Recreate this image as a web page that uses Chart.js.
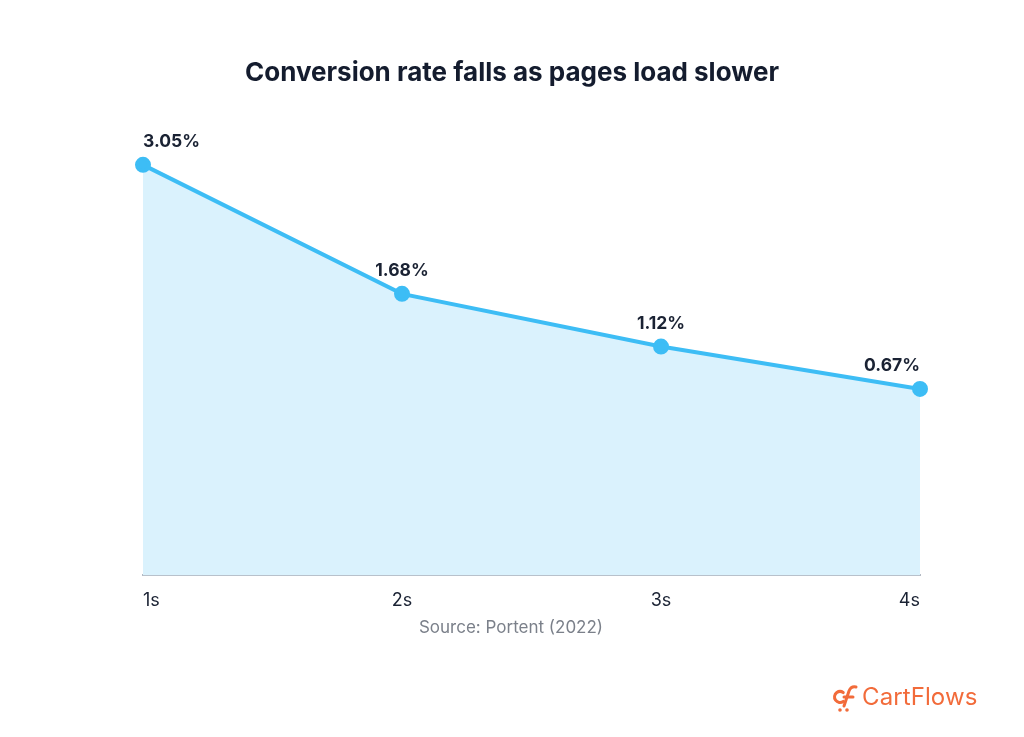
<!DOCTYPE html>
<html>
<head>
<meta charset="utf-8">
<script src="https://cdn.jsdelivr.net/npm/chart.js@4"></script>
<style>
  html, body { margin: 0; padding: 0; background: #fff; }
  #wrap { position: relative; width: 1024px; height: 737px; }
  #brand {
    position: absolute; left: 862px; top: 682px;
    font-family: Inter, "Noto Sans", sans-serif; font-size: 24px;
    color: #f26b3a; letter-spacing: 0.1px;
  }
</style>
</head>
<body>
<div id="wrap">
  <canvas id="chart" width="1024" height="737"></canvas>
  <div id="brand">CartFlows</div>
</div>
<script>
// chart values
const loadTimes = ['1s', '2s', '3s', '4s'];
const conversionRates = [3.05, 1.68, 1.12, 0.67];
const titleText = 'Conversion rate falls as pages load slower';
const sourceText = 'Source: Portent (2022)';

const LINE_COLOR = '#3dbdf5';
const FILL_COLOR = '#daf2fd';
const TEXT_DARK = '#1a2233';

//Draws the title, value labels, source line and the small logo icon
const decorations = {
    id: 'decorations',
    afterDatasetsDraw(chart) {
        const ctx = chart.ctx;
        ctx.save();
        ctx.fillStyle = '#141c2e';
        ctx.font = 'bold 26px Inter, "Noto Sans", sans-serif';
        ctx.textAlign = 'center';
        ctx.textBaseline = 'middle';
        ctx.fillText(titleText, 512, 73);

        // value labels above each point
        const meta = chart.getDatasetMeta(0);
        ctx.font = 'bold 17.5px Inter, "Noto Sans", sans-serif';
        ctx.fillStyle = TEXT_DARK;
        meta.data.forEach((pt, i) => {
            const last = meta.data.length - 1;
            ctx.textAlign = i === 0 ? 'left' : (i === last ? 'right' : 'center');
            ctx.fillText(conversionRates[i].toFixed(2) + '%', pt.x, pt.y - 23);
        });

        ctx.font = '17px Inter, "Noto Sans", sans-serif';
        ctx.fillStyle = '#7b808a';
        ctx.textAlign = 'center';
        ctx.fillText(sourceText, 511, 628);

        // logo icon next to the brand text
        ctx.strokeStyle = '#f26b3a';
        ctx.fillStyle = '#f26b3a';
        ctx.lineWidth = 3;
        ctx.lineCap = 'round';
        ctx.beginPath();
        ctx.arc(840, 697, 5.5, Math.PI * 0.3, Math.PI * 1.7);
        ctx.stroke();
        ctx.beginPath();
        ctx.moveTo(844, 706);
        ctx.lineTo(849, 691);
        ctx.quadraticCurveTo(851, 686, 856, 687);
        ctx.stroke();
        ctx.beginPath();
        ctx.moveTo(844, 697);
        ctx.lineTo(853, 697);
        ctx.stroke();
        ctx.beginPath();
        ctx.arc(840, 710, 1.8, 0, Math.PI * 2);
        ctx.arc(847, 710, 1.8, 0, Math.PI * 2);
        ctx.fill();
        ctx.restore();
    }
};

new Chart(document.getElementById('chart'), {
    type: 'line',
    data: {
        labels: loadTimes,
        datasets: [{
            data: conversionRates,
            borderColor: LINE_COLOR,
            backgroundColor: FILL_COLOR,
            pointBackgroundColor: LINE_COLOR,
            pointBorderColor: LINE_COLOR,
            borderWidth: 4,
            pointRadius: 6,
            fill: 'start',
            tension: 0,
            clip: false
        }]
    },
    options: {
        responsive: false,
        animation: false,
        layout: { padding: { top: 130, left: 143, right: 104, bottom: 112 } },
        plugins: {
            legend: { display: false },
            tooltip: { enabled: false }
        },
        scales: {
            x: {
                offset: false,
                grid: { display: false, drawTicks: false },
                border: { display: true, color: '#b3bac4', width: 2 },
                ticks: {
                    align: 'inner',
                    padding: 14,
                    color: TEXT_DARK,
                    font: { family: 'Inter, "Noto Sans", sans-serif', size: 18 }
                }
            },
            y: {
                display: false,
                min: -1.31,
                max: 3.42
            }
        }
    },
    plugins: [decorations]
});
</script>
</body>
</html>
